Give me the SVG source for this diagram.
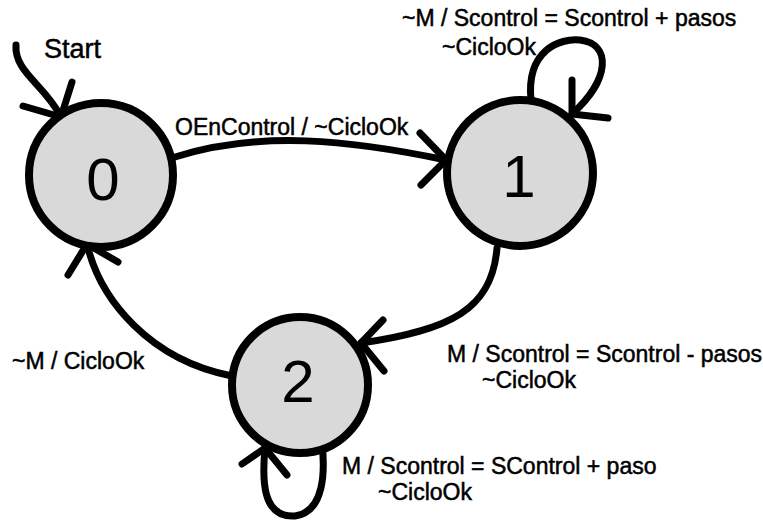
<svg xmlns="http://www.w3.org/2000/svg" width="763" height="521" viewBox="0 0 763 521">
<style>
.node circle{fill:#d9d9d9;stroke:#000;stroke-width:8}
.digit{font-family:"Liberation Sans",Arial,sans-serif;font-size:60px;text-anchor:middle;fill:#000}
.lbl{font-family:"Liberation Sans",Arial,sans-serif;font-size:23px;fill:#000;stroke:#000;stroke-width:0.5}
.edge path{fill:none;stroke:#000;stroke-width:7;stroke-linecap:round;stroke-linejoin:round}
</style>
<rect width="763" height="521" fill="#fff"/>
<g id="connectors" class="edge">
<path d="M16,45 C14,72 45,85 61,117"/>
<path d="M72,82 L61,117 L23,106"/>
<path d="M175,157 C260,130 350,140 446,160"/>
<path d="M420,133 L446,160 L421,185"/>
<path d="M531,100 C526,50 560,38 580,40 C612,44 610,80 572,114"/>
<path d="M572,80 L572,114 L608,118"/>
<path d="M497,248 C492,310 450,330 361,343"/>
<path d="M383,320 L361,343 L384,371"/>
<path d="M232,376 C150,360 100,300 87,244"/>
<path d="M68,275 L87,244 L118,262"/>
<path d="M322,443 C325,470 325,512 295,516 C262,518 262,480 265,448"/>
<path d="M242,464 L265,448 L287,475"/>
</g>
<g id="node0" class="node"><circle cx="101" cy="175" r="72"/><text class="digit" x="103" y="200">0</text></g>
<g id="node1" class="node"><circle cx="520" cy="173" r="73"/><text class="digit" x="519" y="197">1</text></g>
<g id="node2" class="node"><circle cx="300" cy="385" r="68"/><text class="digit" x="298" y="402">2</text></g>
<g id="labels">
<text class="lbl" x="44" y="58" style="font-size:27px">Start</text>
<text class="lbl" x="175" y="135">OEnControl / ~CicloOk</text>
<text class="lbl" x="402" y="26">~M / Scontrol = Scontrol + pasos</text>
<text class="lbl" x="442" y="55">~CicloOk</text>
<text class="lbl" x="447" y="362">M / Scontrol = Scontrol - pasos</text>
<text class="lbl" x="482" y="388">~CicloOk</text>
<text class="lbl" x="12" y="369">~M / CicloOk</text>
<text class="lbl" x="342" y="474">M / Scontrol = SControl + paso</text>
<text class="lbl" x="378" y="500">~CicloOk</text>
</g>
</svg>
